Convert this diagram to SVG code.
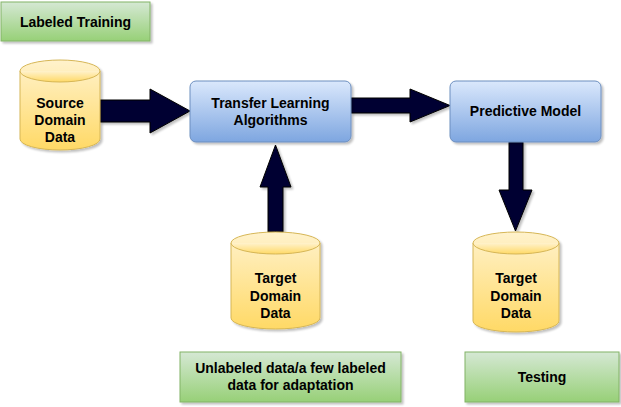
<svg xmlns="http://www.w3.org/2000/svg" width="621" height="407" viewBox="0 0 621 407">
<defs>
<linearGradient id="gGreen" x1="0" y1="0" x2="0" y2="1"><stop offset="0" stop-color="#d5e8d4"/><stop offset="1" stop-color="#97d077"/></linearGradient>
<linearGradient id="gBlue" x1="0" y1="0" x2="0" y2="1"><stop offset="0" stop-color="#dae8fc"/><stop offset="1" stop-color="#7ea6e0"/></linearGradient>
<linearGradient id="gYellow" x1="0" y1="0" x2="0" y2="1"><stop offset="0" stop-color="#fff2cc"/><stop offset="1" stop-color="#ffd966"/></linearGradient>
<filter id="sh" x="-10%" y="-10%" width="130%" height="130%"><feGaussianBlur in="SourceAlpha" stdDeviation="1.2"/><feOffset dx="2" dy="2"/><feComponentTransfer><feFuncA type="linear" slope="0.25"/></feComponentTransfer><feMerge><feMergeNode/><feMergeNode in="SourceGraphic"/></feMerge></filter>
</defs>
<style>
.green{fill:url(#gGreen);stroke:#82b366;stroke-width:1}
.blue{fill:url(#gBlue);stroke:#6c8ebf;stroke-width:1}
.cyl{fill:url(#gYellow);stroke:#d6b656;stroke-width:1}
.arrow{fill:#000033;stroke:#000000;stroke-width:1;stroke-linejoin:miter}
text{font-family:"Liberation Sans",Arial,sans-serif;font-weight:bold;font-size:14px;fill:#000;text-anchor:middle}
</style>
<rect width="621" height="407" fill="#ffffff"/>
<g id="connectors">
<path class="arrow" d="M100,100 L150,100 L150,89 L190,111 L150,133 L150,122 L100,122 Z" filter="url(#sh)"/>
<path class="arrow" d="M351,98 L410,98 L410,89 L450,105.5 L410,122 L410,113 L351,113 Z" filter="url(#sh)"/>
<path class="arrow" d="M268,232 L268,187 L260,187 L275.5,145 L291,187 L283,187 L283,232 Z" filter="url(#sh)"/>
<path class="arrow" d="M509,142 L509,190 L499,190 L515.5,231 L532,190 L523,190 L523,142 Z" filter="url(#sh)"/>
</g>
<g id="labeled-training">
<rect class="green" x="1" y="2" width="149" height="39" filter="url(#sh)"/>
<text x="75.5" y="27">Labeled Training</text>
</g>
<g id="source-domain-data">
<path class="cyl" d="M20,71 A40,11 0 0 1 100,71 L100,139 A40,11 0 0 1 20,139 Z" filter="url(#sh)"/>
<path class="cyl" d="M20,71 A40,11 0 0 0 100,71" fill="none"/>
<text x="60" y="108">Source</text>
<text x="60" y="125">Domain</text>
<text x="60" y="142">Data</text>
</g>
<g id="transfer-learning">
<rect class="blue" x="190" y="81" width="161" height="61" rx="6" filter="url(#sh)"/>
<text x="270.5" y="108">Transfer Learning</text>
<text x="270.5" y="125">Algorithms</text>
</g>
<g id="predictive-model">
<rect class="blue" x="450" y="81" width="151" height="61" rx="6" filter="url(#sh)"/>
<text x="525.5" y="116">Predictive Model</text>
</g>
<g id="target-domain-data-1">
<path class="cyl" d="M231,243 A44.5,11 0 0 1 320,243 L320,318 A44.5,11 0 0 1 231,318 Z" filter="url(#sh)"/>
<path class="cyl" d="M231,243 A44.5,11 0 0 0 320,243" fill="none"/>
<text x="275.5" y="283">Target</text>
<text x="275.5" y="301">Domain</text>
<text x="275.5" y="318">Data</text>
</g>
<g id="target-domain-data-2">
<path class="cyl" d="M473,243 A43,11 0 0 1 559,243 L559,321 A43,11 0 0 1 473,321 Z" filter="url(#sh)"/>
<path class="cyl" d="M473,243 A43,11 0 0 0 559,243" fill="none"/>
<text x="516" y="283">Target</text>
<text x="516" y="301">Domain</text>
<text x="516" y="318">Data</text>
</g>
<g id="unlabeled-data">
<rect class="green" x="180" y="352" width="221" height="50" filter="url(#sh)"/>
<text x="290.5" y="373">Unlabeled data/a few labeled</text>
<text x="290.5" y="390">data for adaptation</text>
</g>
<g id="testing">
<rect class="green" x="465" y="352" width="154" height="50" filter="url(#sh)"/>
<text x="542" y="382">Testing</text>
</g>
</svg>
